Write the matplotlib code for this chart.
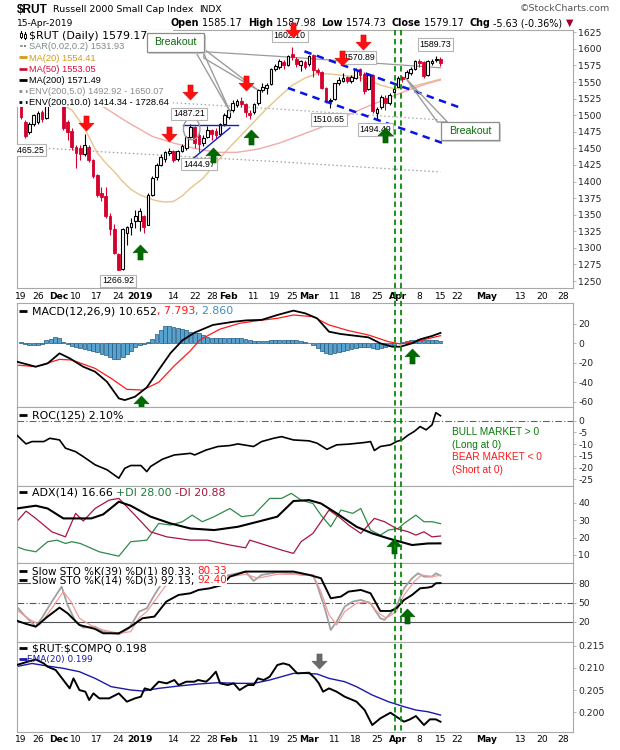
import numpy as np
import pandas as pd
import matplotlib
matplotlib.use('Agg')
import matplotlib.pyplot as plt
from matplotlib.patches import Rectangle, Ellipse, Polygon
from matplotlib.lines import Line2D
from matplotlib.path import Path
import matplotlib.transforms as mtransforms

plt.rcParams['axes.unicode_minus'] = False

W, H = 620, 750

# ---------------- calendar ----------------
START = '2018-11-19'
END = '2019-05-31'
HOLIDAYS = ['2018-11-22', '2018-12-05', '2018-12-25', '2019-01-01', '2019-01-21',
            '2019-02-18', '2019-04-19', '2019-05-27']
TICK_DATES = ['2018-11-19', '2018-11-26', '2018-12-03', '2018-12-10', '2018-12-17', '2018-12-24',
              '2019-01-02', '2019-01-14', '2019-01-22', '2019-01-28', '2019-02-01', '2019-02-11',
              '2019-02-19', '2019-02-25', '2019-03-01', '2019-03-11', '2019-03-18', '2019-03-25',
              '2019-04-01', '2019-04-08', '2019-04-15', '2019-04-22', '2019-05-01', '2019-05-13',
              '2019-05-20', '2019-05-28']
TICK_LABELS = ['19', '26', 'Dec', '10', '17', '24', '2019', '14', '22', '28', 'Feb', '11', '19', '25',
               'Mar', '11', '18', '25', 'Apr', '8', '15', '22', 'May', '13', '20', '28']
BOLD_LABELS = ['Dec', '2019', 'Feb', 'Mar', 'Apr', 'May']

# ---------------- price data (daily) ----------------
OPEN = [1527, 1490, 1474, 1486, 1490, 1505, 1496, 1530, 1522, 1545,
        1546, 1490, 1476, 1452, 1450, 1441, 1452, 1432, 1410, 1382,
        1378, 1348, 1328, 1290, 1268, 1322, 1332, 1340, 1340, 1348,
        1335, 1380, 1407, 1425, 1434, 1443, 1446, 1434, 1446, 1450,
        1467, 1482, 1470, 1458, 1467, 1478, 1476, 1472, 1486, 1498,
        1508, 1516, 1522, 1517, 1504, 1505, 1518, 1538, 1541, 1547,
        1569, 1572, 1580, 1575, 1592, 1585, 1575, 1580, 1577, 1591,
        1568, 1565, 1541, 1521, 1524, 1548, 1552, 1557, 1551, 1556,
        1569, 1562, 1540, 1561, 1503, 1512, 1526, 1519, 1535, 1543,
        1557, 1556, 1563, 1570, 1582, 1580, 1560, 1578, 1583, 1585.17]
HIGH = [1530, 1493, 1489, 1502, 1506, 1508, 1532, 1535, 1536, 1555,
        1550, 1492, 1480, 1455, 1455, 1472, 1455, 1434, 1412, 1392,
        1392, 1352, 1336, 1292, 1330, 1333, 1345, 1357, 1360, 1349,
        1382, 1408, 1428, 1441, 1446, 1450, 1447, 1447, 1456, 1469,
        1487.21, 1483, 1474, 1470, 1483, 1479, 1480, 1488, 1503, 1510,
        1523, 1525, 1527, 1519, 1508, 1519, 1540, 1548, 1549, 1571,
        1577, 1584, 1583, 1590, 1602.10, 1588, 1583, 1583, 1590, 1593,
        1571, 1566, 1543, 1526, 1549, 1558, 1563, 1559, 1561, 1570.89,
        1571, 1565, 1563, 1562, 1512, 1531, 1530, 1533, 1544, 1559,
        1559, 1568, 1572, 1583, 1584, 1581, 1583, 1585, 1589.73, 1587.98]
LOW = [1494, 1465.25, 1472, 1484, 1487, 1490, 1494, 1518, 1515, 1538,
       1478, 1462, 1448, 1420, 1432, 1438, 1430, 1406, 1376, 1370,
       1345, 1320, 1290, 1266.92, 1267, 1305, 1320, 1330, 1326, 1323,
       1334, 1378, 1403, 1423, 1430, 1440, 1430, 1431, 1444, 1447,
       1465, 1450, 1444.97, 1454, 1465, 1462, 1466, 1468, 1484, 1494,
       1505, 1512, 1513, 1497, 1494, 1502, 1516, 1535, 1532, 1546,
       1566, 1570, 1569, 1574, 1583, 1572, 1566, 1570, 1574, 1558,
       1560, 1539, 1518, 1510.65, 1523, 1545, 1550, 1548, 1548, 1555,
       1552, 1532, 1538, 1504, 1494.49, 1510, 1508, 1515, 1533, 1542,
       1550, 1554, 1560, 1568, 1573, 1556, 1559, 1576, 1580, 1574.73]
CLOSE = [1497, 1468, 1486, 1500, 1503, 1494, 1530, 1522, 1533, 1550,
         1480, 1474, 1452, 1443, 1441, 1455, 1433, 1408, 1380, 1376,
         1348, 1328, 1292, 1267, 1329, 1331, 1337, 1348, 1355, 1332,
         1380, 1405, 1425, 1437, 1444, 1446, 1432, 1446, 1453, 1467,
         1482, 1458, 1456, 1466, 1478, 1471, 1470, 1486, 1500, 1508,
         1518, 1521, 1517, 1505, 1500, 1517, 1538, 1543, 1546, 1570,
         1574, 1581, 1575, 1589, 1587, 1577, 1581, 1573, 1589, 1568,
         1565, 1541, 1523, 1523, 1548, 1553, 1556, 1551, 1558, 1568,
         1561, 1537, 1560, 1506, 1509, 1527, 1518, 1530, 1540, 1556,
         1554, 1565, 1569, 1581, 1578, 1559, 1581, 1582, 1585, 1579.17]

# ---------------- overlays (day index, value) ----------------
MA20_X = [0, 4, 8, 12, 14, 16, 18, 20, 22, 24, 26, 28, 30, 32, 34, 36, 38, 40, 43, 46, 49, 52, 55,
          58, 61, 64, 67, 70, 73, 76, 79, 82, 85, 88, 91, 94, 97, 99]
MA20_Y = [1533, 1528, 1522, 1508, 1490, 1468, 1443, 1428, 1415, 1400, 1388, 1380, 1375, 1371, 1369,
          1370, 1378, 1390, 1405, 1428, 1450, 1470, 1490, 1510, 1528, 1545, 1556, 1563, 1562, 1560,
          1558, 1553, 1545, 1540, 1541, 1546, 1551, 1554.41]
MA50_X = [0, 10, 19.4, 25, 31, 36, 41, 46, 51, 56, 61, 66, 71, 76, 81, 86, 91, 96, 99]
MA50_Y = [1565, 1538, 1513, 1490, 1468, 1458, 1450, 1444, 1444, 1449, 1458, 1470, 1482, 1497, 1511,
          1524, 1537, 1548, 1553.05]
MA200_X = [0, 20, 40, 60, 80, 99]
MA200_Y = [1614, 1605, 1597, 1589, 1580, 1571.49]

# ---------------- MACD ----------------
MACD_X = [-1, 3.5, 6.3, 9.1, 11.5, 14.7, 17.5, 20.3, 23.1, 24.5, 26.9, 29.7, 32.5, 35.3, 38.1, 41,
          45.3, 50, 53.2, 56.8, 60.5, 64.3, 67.1, 69.9, 72.7, 75.5, 79.3, 82, 84.8, 87.6, 89.5,
          92.3, 94.2, 97, 99]
MACD_Y = [-18.8, -24, -20.6, -10.3, -15.4, -24, -29.1, -39.4, -56.5, -58.2, -54.8, -45.2, -27.4, -10,
          3, 11, 18.8, 22, 23.5, 24, 29, 33.5, 30.7, 25.6, 11.9, 9.5, 7.5, 6.1, 0, -3.5, -3.5,
          0, 4.1, 7.5, 10.652]
SIGNAL_X = [-1, 3.5, 9.1, 12, 17.5, 21.3, 25, 28.7, 32.5, 36.2, 39.9, 42.2, 46.9, 51.6, 55.9, 60.5,
            64.3, 68.9, 72.7, 77.3, 82, 86.7, 89.5, 93.2, 99]
SIGNAL_Y = [-22.3, -24, -16.5, -17.1, -25.7, -36, -47.2, -47.9, -40, -23, -8, 3.4, 14.4, 20.5, 23.2,
            25.6, 29, 27.3, 18.8, 13, 8.5, 1.7, -0.7, 1.7, 7.793]
HIST = [1.5, -1, -1.5, -2, -2, -1, 3, 4.5, 6.5, 5,
        1, -1, -2.5, -4, -5, -5.5, -6.5, -7.5, -9, -11,
        -12.5, -14, -16, -16.4, -14, -11, -7.5, -4, -2, -0.5,
        1.5, 4, 10, 14, 17.7, 17.5, 16.5, 16, 15, 13.6,
        11.6, 11, 10.3, 8.5, 6.8, 5.5, 5, 5, 5, 5,
        5, 5, 5, 4, 3, 2.5, 2, 2, 2.5, 3,
        3, 3, 3.5, 3.5, 3, 3, 2.5, 1, 0, -2,
        -5, -8, -10, -11, -10, -9, -8, -7, -6, -5,
        -4, -4, -4, -5, -6, -5, -4, -3, -2, 0,
        1, 2, 3, 3, 4, 3, 3, 3, 3, 2.86]

# ---------------- ROC(125) ----------------
ROC_X = [-1, 1.2, 2.6, 5.4, 6.8, 9.1, 10.5, 12.9, 14.7, 17.5, 20.3, 23.1, 24.5, 25.9, 28.3, 29.7,
         30.6, 33.4, 36.2, 38.5, 40, 41, 43.7, 46.5, 49.3, 51.2, 54.9, 56.8, 59.6, 61.5, 64.3, 68,
         69.9, 72.2, 74.5, 77.3, 81.1, 82.5, 83.4, 84.8, 87.2, 88.6, 89.9, 91.4, 92.8, 94.2, 95.6,
         97, 97.9, 99]
ROC_Y = [-6.1, -9.9, -8.9, -8.9, -7.5, -8.2, -11.7, -13.2, -15.3, -18.8, -20.9, -24.5, -20.3, -19.1,
         -19.1, -21.7, -19.5, -16.4, -14.6, -14.2, -13.9, -14.6, -12.5, -11, -10.6, -9.9, -11, -8.9,
         -7.5, -6.8, -8.2, -8.6, -9.6, -12.2, -10.3, -10, -9.3, -8.9, -12.7, -11, -10.3, -8.9,
         -8.2, -6.1, -4.6, -2.5, -3.9, -1.8, 3.4, 2.10]

# ---------------- ADX(14) ----------------
ADX_X = [-1, 3.5, 6.3, 10, 13, 16.6, 19.4, 23.1, 25.9, 30.6, 35.3, 40, 45.6, 51.2, 55.9, 60.5, 64.3,
         68, 70.8, 74.5, 79.2, 82.9, 86.7, 89.5, 92.3, 96, 99]
ADX_Y = [36.7, 38.3, 36.7, 31, 31, 31, 33.3, 40.6, 38.3, 32, 28.1, 25.2, 24.3, 26.2, 29.1, 32, 41,
         41.5, 39.6, 33.9, 26.2, 22.4, 19.5, 17.6, 15.7, 16.6, 16.66]
PDI_X = [-1, 1, 3.5, 6.3, 8.5, 10.5, 12, 14, 18.5, 23.1, 25.9, 29.7, 32.5, 35.3, 38.1, 40.4, 42.8,
         45.6, 49.3, 52.1, 54.9, 58.7, 61.5, 63.8, 66.1, 68.9, 70.8, 73.1, 75.5, 78.3, 80.2, 82.5,
         84.8, 86.7, 89, 90.4, 93.2, 95.1, 97, 99]
PDI_Y = [14.7, 13, 11.8, 17.6, 18.5, 16.6, 17.6, 16.6, 11.8, 9.3, 17.6, 18.5, 28.1, 27.2, 29.1, 32.9,
         29.1, 32, 36.7, 32, 32.9, 42.5, 42.5, 45.4, 41.5, 39.6, 32.9, 26.2, 35.8, 33.9, 36.7, 24.3,
         21.4, 24.3, 25.2, 28.1, 32.9, 29.1, 29.1, 28.00]
MDI_X = [-1, 1.2, 3.5, 7.3, 10.5, 12.9, 14.7, 17.5, 20.8, 23.1, 26.9, 30.6, 34.4, 40, 44, 49.3, 53,
         54, 57.7, 61.5, 64.3, 66.1, 68.9, 70.8, 72.7, 75.5, 77.3, 80.2, 83.4, 85.8, 88.6, 91.4,
         93.2, 95.1, 97, 99]
MDI_Y = [29.1, 35.2, 31, 23.3, 20.4, 33.9, 29.5, 36.7, 41.5, 42.5, 32.9, 23.3, 20.4, 18.5, 18.5,
         15.7, 14.1, 18.5, 15.7, 12.8, 10.9, 17.6, 22.4, 29.1, 35.8, 31, 27.2, 22.4, 31, 29.1, 25.2,
         23.3, 21.4, 23.3, 20.4, 20.88]

# ---------------- Slow stochastics ----------------
STO39_X = [-1, 1, 3.5, 6.3, 9.1, 11, 13.8, 17.5, 19.4, 23.1, 25.9, 28.7, 31.5, 34.3, 37.2, 40, 41.9,
           44.6, 47.5, 49.3, 53, 60, 64.3, 68, 70.8, 73.1, 75.5, 77.3, 80.2, 82.5, 84.8, 87.2, 88.6,
           90.4, 92.3, 94.2, 96, 97, 97.9, 99]
STO39_Y = [21.7, 17, 12.3, 28, 42, 33.2, 14.9, 8.7, 1.9, 1.9, 12.3, 25.4, 28, 51.4, 61.8, 64.4, 69.6,
           72.2, 77.4, 90.4, 98.3, 98.3, 98.3, 93.1, 87.9, 56.6, 59.2, 67, 69.6, 64.4, 36.8, 36.8, 41,
           54, 61.8, 72.2, 73.3, 74.8, 80, 80.33]
STO14K_X = [-1, 0.7, 3.5, 4.9, 7.3, 9.6, 11, 12.9, 14.7, 17.5, 19.4, 23.1, 25.5, 27.9, 29.7, 31.5,
            33, 36, 40, 42.8, 47, 49.3, 53, 54.9, 56.8, 60.5, 64.3, 66.1, 68.9, 69.9, 71.7, 73.1,
            74.5, 76.4, 78.3, 80.2, 82.5, 84.8, 85.8, 87.2, 88.6, 90.4, 92.3, 93.7, 95.1, 97, 97.9, 99]
STO14K_Y = [43.6, 30.6, 12.3, 25.4, 51.4, 74.8, 46.2, 20.1, 10.8, 12.3, 4.5, 0.4, 9.7, 35.8, 41, 61.8,
            77.4, 88, 85, 87.9, 90.4, 93.1, 98.3, 83.7, 93.1, 97.2, 95.6, 93.1, 93.1, 77.4, 41, 7.1,
            20.1, 43.6, 51.4, 54, 48.8, 25.4, 22.8, 33.2, 43.6, 72.2, 87.9, 95.6, 90.4, 90.4, 95.6, 92.13]
STO14D_X = [-1, 1.6, 4.4, 7.3, 10, 11.8, 13.8, 16.6, 19.4, 23.1, 25.9, 27.8, 29.7, 32, 34, 37, 42.8,
            49.3, 53, 55.9, 60.5, 66.1, 68.9, 70.8, 72.7, 74.5, 76.4, 79.2, 82, 84, 86.2, 88.6, 90.4,
            92.8, 94.6, 97, 99]
STO14D_Y = [38.4, 25.4, 15, 41, 67, 51.4, 25.4, 13.9, 7.1, 1.9, 4.5, 25.4, 35.8, 56.6, 75, 86, 85.2,
            90.4, 94.1, 87.9, 94.1, 94.1, 93.1, 67, 30.6, 15, 35.8, 48.8, 51.4, 35.8, 25.4, 35.8, 61.8,
            82.6, 93.1, 90.4, 92.4]

# ---------------- $RUT:$COMPQ ratio ----------------
RATIO_X = [-1, 1.6, 3.5, 5.4, 6.3, 8.2, 10, 11.5, 12.4, 13.8, 15.2, 16.1, 17.1, 18.5, 20.8, 23.1, 25,
           26.9, 28.3, 29.2, 30.6, 32.5, 34.4, 36.2, 37.2, 39, 40.9, 41.8, 43.7, 44.6, 46, 47, 48.8,
           50.2, 51.6, 53.5, 54.9, 55.9, 57.3, 58.7, 60.5, 61.9, 63.3, 65.2, 68, 69.4, 70.3, 71.3,
           72.7, 74.5, 76.4, 78.3, 79.2, 81.1, 82.9, 84.8, 87.2, 88.6, 90.4, 91.8, 93.2, 95.1, 96.5,
           97.9, 99]
RATIO_Y = [0.21065, 0.2114, 0.2119, 0.2110, 0.21027, 0.20952, 0.20727, 0.20539, 0.20764, 0.20501,
           0.20464, 0.20276, 0.20426, 0.20314, 0.20314, 0.20426, 0.20239, 0.20314, 0.20351, 0.20539,
           0.20501, 0.20689, 0.20652, 0.20727, 0.20614, 0.20689, 0.20689, 0.20727, 0.20689, 0.20764,
           0.20914, 0.20652, 0.20614, 0.20652, 0.20501, 0.20614, 0.20614, 0.20764, 0.20727, 0.20802,
           0.21065, 0.21102, 0.21065, 0.20877, 0.20892, 0.20764, 0.20652, 0.20464, 0.20539, 0.20464,
           0.20351, 0.20276, 0.20239, 0.20051, 0.19713, 0.19863, 0.19991, 0.19901, 0.19788, 0.19841,
           0.19916, 0.19713, 0.19841, 0.19841, 0.19788]
EMA_X = [-1, 2.6, 6.3, 10, 13.8, 17.5, 21.3, 26, 28.7, 32.5, 37.2, 41.9, 46.5, 51.2, 55, 58.7, 61.5,
         64.3, 67.1, 69.9, 72.7, 76.4, 79.2, 82.9, 86.7, 90.4, 93.2, 96, 99]
EMA_Y = [0.2103, 0.2110, 0.21042, 0.2099, 0.20914, 0.20764, 0.20577, 0.20501, 0.20479, 0.20539,
         0.20592, 0.20637, 0.20667, 0.20652, 0.20652, 0.20727, 0.20802, 0.20877, 0.20877, 0.20862,
         0.20764, 0.20689, 0.20576, 0.20389, 0.20239, 0.20126, 0.20051, 0.20013, 0.19938]

# ---------------- annotations (day index, value) ----------------
RED_ARROW_X = [15.3, 35.0, 39.9, 53.2, 64.1, 80.7, 75.8]
RED_ARROW_Y = [1487.8, 1471.9, 1535.1, 1549, 1627.7, 1610.1, 1586.2]
GREEN_ARROW_X = [28.0, 45.4, 54.2, 86.0]
GREEN_ARROW_Y = [1293.7, 1440.4, 1466.8, 1469.4]
MACD_ARROW_X = [28.3, 92.3]
MACD_ARROW_Y = [-60.7, -12.8]
ADX_ARROW = (88.1, 15.1)
STO_ARROW = (91.1, 28.9)
RATIO_ARROW = (70.3, 0.21149)
PRICE_LABELS = ['1465.25', '1266.92', '1487.21', '1444.97', '1602.10', '1570.89', '1510.65',
                '1494.49', '1589.73']
PRICE_LABEL_X = [1.7, 22.9, 39.6, 42.0, 63.4, 79.7, 72.6, 83.7, 97.8]
PRICE_LABEL_Y = [1447.5, 1250.1, 1501.8, 1426.4, 1619.4, 1586.7, 1493.2, 1478.1, 1606.3]
CH_UPPER_X = [66.9, 103.9]
CH_UPPER_Y = [1596.3, 1510.8]
CH_LOWER_X = [63.0, 99.5]
CH_LOWER_Y = [1541, 1458]
JAN_HLINE_X = [38.2, 51.2]
JAN_HLINE_Y = [1485.7, 1485.7]
JAN_TREND_X = [40.3, 49.3]
JAN_TREND_Y = [1432.9, 1480.7]
SIGNAL_DAYS = [88.15, 89.75]

# ---------------- helpers ----------------
FAM_N = ['Liberation Sans', 'DejaVu Sans']
FAM_W = ['DejaVu Sans']

fig = plt.figure(figsize=(W / 100, H / 100), dpi=100)
fig.patch.set_facecolor('white')


def fx(x):
    return x / W


def fy(y):
    return 1 - y / H


L_PX, R_PX = 16.7, 572.7


def make_ax(top, bottom):
    ax = fig.add_axes([fx(L_PX), fy(bottom), (R_PX - L_PX) / W, (bottom - top) / H])
    ax.set_xlim(-1.0, 130.2)
    for s in ax.spines.values():
        s.set_color('#a8a8a8')
        s.set_linewidth(0.8)
    ax.yaxis.tick_right()
    ax.tick_params(axis='y', length=2, width=0.6, color='#a8a8a8', pad=2, labelsize=6.7,
                   labelcolor='#222222')
    ax.tick_params(axis='x', length=0, labelbottom=False)
    return ax


def ydeco(ax):
    for lab in ax.get_yticklabels():
        lab.set_family(FAM_W)


renderer = fig.canvas.get_renderer()


def segments(x, y, segs, size, family, target=None, zorder=10, bg=None):
    for s, color, weight in segs:
        kw = dict(color=color, fontsize=size, family=family, weight=weight, ha='left',
                  va='baseline', zorder=zorder)
        if target is None:
            t = fig.text(fx(x), fy(y), s, **kw)
        else:
            t = target.text(fx(x), fy(y), s, transform=fig.transFigure, clip_on=False, **kw)
        if bg is not None:
            t.set_bbox(dict(facecolor=bg, edgecolor='none', pad=0.3))
        x += t.get_window_extent(renderer=renderer).width
    return x


def legend_dash(y, color, target=None, style='-', lw=2.0):
    ln = Line2D([fx(19.5), fx(27)], [fy(y), fy(y)], transform=fig.transFigure, color=color,
                lw=lw, linestyle=style, zorder=11, solid_capstyle='butt')
    if target is None:
        fig.add_artist(ln)
    else:
        ln.set_clip_on(False)
        target.add_artist(ln)


DOWN = Path([(-0.17, 0.5), (0.17, 0.5), (0.17, 0.02), (0.5, 0.02), (0.0, -0.5), (-0.5, 0.02),
             (-0.17, 0.02), (-0.17, 0.5)],
            [Path.MOVETO] + [Path.LINETO] * 6 + [Path.CLOSEPOLY])
UP = Path([(x, -y) for x, y in DOWN.vertices], DOWN.codes)
ARROW_MS = 10.8

# ---------------- index mapping ----------------
days = pd.bdate_range(START, END)
days = days[~days.isin(pd.to_datetime(HOLIDAYS))]
day_pos = {d: i for i, d in enumerate(days)}
tick_pos = [day_pos[pd.Timestamp(d)] for d in TICK_DATES]
n = len(CLOSE)
idx = np.arange(n)
o, h, l, c = map(np.asarray, (OPEN, HIGH, LOW, CLOSE))

# ================= MAIN PANEL =================
ax = make_ax(29.5, 288.3)
ax.set_ylim(1239, 1629.2)
ax.set_yticks(np.arange(1250, 1626, 25))
ydeco(ax)

ma200 = np.asarray(MA200_Y)
ax.plot(MA200_X, ma200 * 0.95, color='#a8a8a8', lw=0.9, ls=(0, (1.2, 2)), zorder=1)
ax.plot(MA200_X, ma200 * 1.05, color='#a8a8a8', lw=0.9, ls=(0, (1.2, 2)), zorder=1)
ax.plot(MA200_X, ma200 * 0.90, color='#a0a0a0', lw=0.9, ls=(0, (1.2, 2)), zorder=1)
ax.plot(MA200_X, ma200 * 1.10, color='#a0a0a0', lw=0.9, ls=(0, (1.2, 2)), zorder=1)
ax.plot(MA200_X, ma200, color='#9a9a9a', lw=0.9, zorder=1)
ax.plot(MA20_X, MA20_Y, color='#e8c48c', lw=1.0, zorder=1)
ax.plot(MA50_X, MA50_Y, color='#f3aaaa', lw=1.0, zorder=1)

up = c >= o
RED = '#d6002f'
ax.vlines(idx[up], l[up], h[up], color='black', lw=0.8, zorder=2)
ax.vlines(idx[~up], l[~up], h[~up], color=RED, lw=0.8, zorder=2)
bw = 0.64
body_lo = np.minimum(o, c)
body_h = np.maximum(np.abs(c - o), 0.9)
ax.bar(idx[up], body_h[up], bottom=body_lo[up], width=bw, facecolor='white', edgecolor='black',
       lw=0.8, zorder=3)
ax.bar(idx[~up], body_h[~up], bottom=body_lo[~up], width=bw, facecolor=RED, edgecolor=RED,
       lw=0.6, zorder=3)

# channel & trend lines
ax.plot(CH_UPPER_X, CH_UPPER_Y, color='#0a14e6', lw=1.8, ls=(0, (3, 2.2)), zorder=4)
ax.plot(CH_LOWER_X, CH_LOWER_Y, color='#0a14e6', lw=1.8, ls=(0, (3, 2.2)), zorder=4)
ax.plot(JAN_HLINE_X, JAN_HLINE_Y, color='#1020c8', lw=1.0, zorder=4)
ax.plot(JAN_TREND_X, JAN_TREND_Y, color='#1020c8', lw=1.0, zorder=4)
ax.add_patch(Ellipse((40.3, 1479.3), 3.9, 32.7, fill=False, ec='#9a9a9a', lw=1.0, zorder=4))

# value labels
for s, x, y in zip(PRICE_LABELS, PRICE_LABEL_X, PRICE_LABEL_Y):
    ax.text(x, y, s, ha='center', va='center', fontsize=6.3, family=FAM_N, zorder=6,
            clip_on=True,
            bbox=dict(boxstyle='square,pad=0.22', fc='white', ec='#b4b4b4', lw=0.8))

# legend background
ax.add_patch(Rectangle((-1.0, 1513.1), 36.9, 120, facecolor='white', edgecolor='none', zorder=5))

# breakout boxes and callouts
ax.add_patch(Polygon([(40.57, 1602.8), (42.45, 1602.8), (49.5, 1503.3)], closed=True, fill=False,
                     ec='#9c9c9c', lw=1.0, zorder=6))
ax.add_patch(Polygon([(43.16, 1599.8), (43.16, 1586.2), (55.88, 1538.0)], closed=True, fill=False,
                     ec='#9c9c9c', lw=1.0, zorder=6))
ax.add_patch(Polygon([(98.28, 1489.7), (100.64, 1489.7), (90.74, 1556.1)], closed=True, fill=False,
                     ec='#9c9c9c', lw=1.0, zorder=6))
for (x0, x1, y0, y1) in [(29.7, 43.2, 1595.7, 1624.4), (99.2, 112.9, 1462.6, 1489.7)]:
    ax.add_patch(Rectangle((x0 + 0.45, y0 - 3.0), x1 - x0, y1 - y0, facecolor='#cfcfcf',
                           edgecolor='none', zorder=7))
    ax.add_patch(Rectangle((x0, y0), x1 - x0, y1 - y0, facecolor='white', edgecolor='#8c8c8c',
                           lw=0.9, zorder=7))
    ax.text((x0 + x1) / 2, (y0 + y1) / 2, 'Breakout', ha='center', va='center', fontsize=7.6,
            family=FAM_N, color='#0a6a0a', zorder=8)

# arrows
ax.plot(RED_ARROW_X, RED_ARROW_Y, ls='none', marker=DOWN, ms=ARROW_MS, mfc='#ff1010',
        mec='#e00000', mew=0.4, zorder=9, clip_on=False)
ax.plot(GREEN_ARROW_X, GREEN_ARROW_Y, ls='none', marker=UP, ms=ARROW_MS, mfc='#006a00',
        mec='#005500', mew=0.4, zorder=9)

ax.set_xticks(tick_pos)
ax.set_xticklabels(TICK_LABELS)
ax.tick_params(axis='x', labelbottom=True, pad=2.5, labelsize=6.6)

# main legend text
rows = [38.6, 49.3, 60.6, 72.0, 83.3, 94.0, 105.0]
segments(29.3, rows[0], [('\\$RUT (Daily) 1579.17', 'black', 'normal')], 7.9, FAM_W, target=ax, zorder=6.5)
segments(29.3, rows[1], [('SAR(0.02,0.2) 1531.93', '#7c8a8c', 'normal')], 6.7, FAM_N, target=ax, zorder=6.5)
segments(29.3, rows[2], [('MA(20) 1554.41', '#d49a1c', 'normal')], 6.7, FAM_N, target=ax, zorder=6.5)
segments(29.3, rows[3], [('MA(50) 1553.05', '#d0103a', 'normal')], 6.7, FAM_N, target=ax, zorder=6.5)
segments(29.3, rows[4], [('MA(200) 1571.49', 'black', 'normal')], 6.7, FAM_N, target=ax, zorder=6.5)
segments(29.3, rows[5], [('ENV(200,5.0) 1492.92 - 1650.07', '#8c8c8c', 'normal')], 6.7, FAM_N, target=ax, zorder=6.5)
segments(29.3, rows[6], [('ENV(200,10.0) 1414.34 - 1728.64', 'black', 'normal')], 6.7, FAM_N, target=ax, zorder=6.5)
mk = [r - 3.3 for r in rows]
# candle icon
for cx, top, bot in [(21.2, mk[0] - 4, mk[0] + 3), (25.2, mk[0] - 3, mk[0] + 4)]:
    ax.add_artist(Line2D([fx(cx), fx(cx)], [fy(top), fy(bot)], transform=fig.transFigure,
                         color='black', lw=0.8, zorder=6.5, clip_on=False))
    ax.add_artist(Rectangle((fx(cx - 1.2), fy(bot - 1.5)), 2.4 / W, 4 / H, transform=fig.transFigure,
                            facecolor='white', edgecolor='black', lw=0.7, zorder=6.6, clip_on=False))
for sx, col in [(21.5, '#9aa6a8'), (25.0, '#7c8a8c')]:
    ax.add_artist(Rectangle((fx(sx - 1.3), fy(mk[1] + 1.3)), 2.6 / W, 2.6 / H, transform=fig.transFigure,
                            facecolor=col, edgecolor='none', zorder=6.6, clip_on=False))
legend_dash(mk[2], '#d49a1c', target=ax)
legend_dash(mk[3], '#d0103a', target=ax)
legend_dash(mk[4], 'black', target=ax)
legend_dash(mk[5], '#8c8c8c', target=ax, style=(0, (1, 1.3)), lw=2.0)
legend_dash(mk[6], 'black', target=ax, style=(0, (1, 1.3)), lw=2.0)

# ================= MACD =================
ax2 = make_ax(303.3, 407.3)
ax2.set_ylim(-65.6, 41)
ax2.set_yticks([-60, -40, -20, 0, 20])
ydeco(ax2)
ax2.bar(idx, HIST, width=0.92, facecolor='#56a3cf', edgecolor='#23577f', lw=0.5, zorder=1)
ax2.plot(SIGNAL_X, SIGNAL_Y, color='#ff1a1a', lw=0.9, zorder=2)
ax2.plot(MACD_X, MACD_Y, color='black', lw=1.3, zorder=3)
ax2.plot(MACD_ARROW_X, MACD_ARROW_Y, ls='none', marker=UP, ms=ARROW_MS, mfc='#006a00',
         mec='#005500', mew=0.4, zorder=9)
legend_dash(310.7, 'black')
segments(31.7, 314.2, [('MACD(12,26,9) 10.652', 'black', 'normal'), (', 7.793', '#ff1a1a', 'normal'),
                       (', 2.860', '#3a8fc7', 'normal')], 7.9, FAM_W)

# ================= ROC =================
ax3 = make_ax(407.3, 485.7)
ax3.set_ylim(-27.7, 5.7)
ax3.set_yticks([-25, -20, -15, -10, -5, 0])
ydeco(ax3)
ax3.axhline(0, color='#666666', lw=0.8, ls=(0, (6, 2, 1, 2)), zorder=1)
ax3.plot(ROC_X, ROC_Y, color='black', lw=1.2, zorder=3)
for s, col, yv in [('BULL MARKET > 0', '#0a7a0a', -4.9), ('(Long at 0)', '#0a7a0a', -10.5),
                   ('BEAR MARKET < 0', '#ff1a1a', -15.3), ('(Short at 0)', '#ff1a1a', -21.1)]:
    ax3.text(101.7, yv, s, color=col, fontsize=7.3, family=FAM_N, ha='left', va='center')
legend_dash(415.0, 'black')
segments(31.7, 418.5, [('ROC(125) 2.10%', 'black', 'normal')], 7.9, FAM_W)

# ================= ADX =================
ax4 = make_ax(485.7, 563.3)
ax4.set_ylim(5.2, 49.8)
ax4.set_yticks([10, 20, 30, 40])
ydeco(ax4)
ax4.plot(PDI_X, PDI_Y, color='#2f8a4a', lw=0.9, zorder=2)
ax4.plot(MDI_X, MDI_Y, color='#a8163f', lw=0.9, zorder=2)
ax4.plot(ADX_X, ADX_Y, color='black', lw=1.5, zorder=3)
ax4.plot([ADX_ARROW[0]], [ADX_ARROW[1]], ls='none', marker=UP, ms=ARROW_MS, mfc='#006a00',
         mec='#005500', mew=0.4, zorder=9)
legend_dash(492.3, 'black')
segments(31.7, 495.8, [('ADX(14) 16.66 ', 'black', 'normal'), ('+DI 28.00 ', '#1f7a3a', 'normal'),
                       ('-DI 20.88', '#a8163f', 'normal')], 7.9, FAM_W)

# ================= STO =================
ax5 = make_ax(563.3, 641.7)
ax5.set_ylim(-11.2, 111.2)
ax5.set_yticks([20, 50, 80])
ydeco(ax5)
ax5.axhline(80, color='#555555', lw=0.8, zorder=1)
ax5.axhline(20, color='#555555', lw=0.8, zorder=1)
ax5.axhline(50, color='#555555', lw=0.8, ls=(0, (6, 2, 1, 2)), zorder=1)
ax5.plot(STO14K_X, STO14K_Y, color='#a0a0a0', lw=1.3, zorder=2)
ax5.plot(STO14D_X, STO14D_Y, color='#f59a9a', lw=0.9, zorder=2)
ax5.plot(STO39_X, STO39_Y, color='black', lw=1.4, zorder=3)
ax5.plot([STO_ARROW[0]], [STO_ARROW[1]], ls='none', marker=UP, ms=ARROW_MS, mfc='#006a00',
         mec='#005500', mew=0.4, zorder=9)
legend_dash(570.8, 'black')
legend_dash(579.8, 'black')
segments(31.7, 574.3, [('Slow STO %K(39) %D(1) 80.33, ', 'black', 'normal'), ('80.33', '#ff1a1a', 'normal')],
         7.5, FAM_W, bg='white')
segments(31.7, 583.3, [('Slow STO %K(14) %D(3) 92.13, ', 'black', 'normal'), ('92.40', '#ff1a1a', 'normal')],
         7.5, FAM_W, bg='white')

# ================= RATIO =================
ax6 = make_ax(641.7, 731.7)
ax6.set_ylim(0.19563, 0.2159)
ax6.set_yticks([0.200, 0.205, 0.210, 0.215])
ax6.set_yticklabels(['0.200', '0.205', '0.210', '0.215'])
ydeco(ax6)
ax6.plot(EMA_X, EMA_Y, color='#1a1aa8', lw=1.0, zorder=2)
ax6.plot(RATIO_X, RATIO_Y, color='black', lw=1.4, zorder=3)
ax6.plot([RATIO_ARROW[0]], [RATIO_ARROW[1]], ls='none', marker=DOWN, ms=ARROW_MS, mfc='#6a6a6a',
         mec='#555555', mew=0.4, zorder=9)
ax6.set_xticks(tick_pos)
ax6.set_xticklabels(TICK_LABELS)
ax6.tick_params(axis='x', labelbottom=True, pad=2.5, labelsize=6.6)
legend_dash(648.3, 'black')
legend_dash(658.8, '#1a1aa8')
segments(31.7, 651.8, [('\\$RUT:\\$COMPQ 0.198', 'black', 'normal')], 7.9, FAM_W)
segments(27.0, 662.3, [('EMA(20) 0.199', '#1a1aa8', 'normal')], 6.4, FAM_W)

for a in (ax, ax6):
    for lab in a.get_xticklabels():
        lab.set_family(FAM_W)
        if lab.get_text() in BOLD_LABELS:
            lab.set_weight('bold')

# green dashed signal lines across all panels
blend = mtransforms.blended_transform_factory(ax.transData, fig.transFigure)
for xd in SIGNAL_DAYS:
    fig.add_artist(Line2D([xd, xd], [fy(29.5), fy(731.7)], transform=blend, color='#0a8a0a',
                          lw=1.3, ls=(0, (3, 2)), zorder=9))

# ================= HEADER =================
segments(16.7, 12.7, [('\\$RUT', 'black', 'bold')], 8.6, FAM_N, zorder=-1)
xe = segments(52.7, 12.2, [('Russell 2000 Small Cap Index', 'black', 'normal')], 6.8, FAM_W, zorder=-1)
segments(xe + 6, 12.2, [('INDX', 'black', 'normal')], 6.6, FAM_W, zorder=-1)
fig.text(fx(610), fy(10.8), '\u00a9StockCharts.com', ha='right', va='baseline', fontsize=6.8,
         family=FAM_W, color='#555555', zorder=-1)
segments(16.7, 26.0, [('15-Apr-2019', 'black', 'normal')], 6.6, FAM_W, zorder=-1)
hdr = [('Open', 'black', 'bold'), (' 1585.17  ', 'black', 'normal'), ('High', 'black', 'bold'),
       (' 1587.98  ', 'black', 'normal'), ('Low', 'black', 'bold'), (' 1574.73  ', 'black', 'normal'),
       ('Close', 'black', 'bold'), (' 1579.17  ', 'black', 'normal'), ('Chg', 'black', 'bold'),
       (' -5.63 (-0.36%)', 'black', 'normal'), (' \u25BC', '#a0002a', 'normal')]
tmp = [fig.text(0, 0, s, fontsize=6.9, family=FAM_W, weight=w) for s, _, w in hdr]
total = sum(t.get_window_extent(renderer=renderer).width for t in tmp)
for t in tmp:
    t.remove()
segments(573 - total, 26.0, hdr, 6.9, FAM_W, zorder=-1)

fig.savefig('out.png', dpi=100)
